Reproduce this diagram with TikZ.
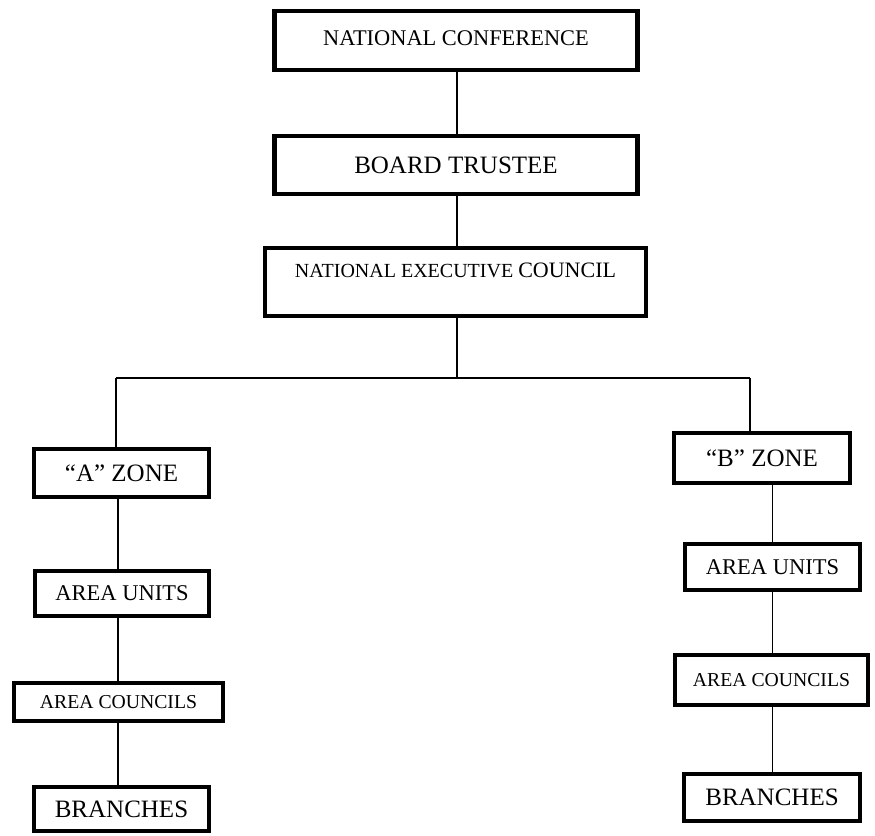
\documentclass[tikz,border=0pt]{standalone}
\usepackage{fontspec}
\setmainfont{Liberation Serif}
\begin{document}
\begin{tikzpicture}[x=1pt,y=1pt,
  orgbox/.style={draw=black, line width=4.5pt, fill=white, inner sep=0pt, align=center},
  link/.style={draw=black, line width=1.5pt}]
\useasboundingbox (0,0) rectangle (875,-835);
% top column
\node[orgbox, minimum width=363, minimum height=59, font=\fontsize{22.4}{26}\selectfont] (nc) at (456,-40.5) {\raisebox{5pt}{NATIONAL CONFERENCE}};
\node[orgbox, minimum width=363, minimum height=58, font=\fontsize{25}{29}\selectfont] (bt) at (456,-165) {BOARD TRUSTEE};
\node[orgbox, minimum width=381, minimum height=68] (nec) at (455.5,-282) {};
\node[inner sep=0pt] (nectext) at (455.5,-270) {\fontsize{20}{24}\selectfont NATIONAL EXECUTIVE \fontsize{22}{26}\selectfont COUNCIL};
% branch line
\coordinate (hm) at (457,-378);
\coordinate (hl) at (116,-378);
\coordinate (hr) at (750,-378);
% left column
\node[orgbox, minimum width=175, minimum height=48, font=\fontsize{25}{29}\selectfont] (az) at (121.5,-473) {“A” ZONE};
\node[orgbox, minimum width=174, minimum height=45, font=\fontsize{22.5}{26}\selectfont] (aul) at (122,-593.5) {AREA UNITS};
\node[orgbox, minimum width=209, minimum height=38, font=\fontsize{19.7}{23}\selectfont] (acl) at (118.5,-702) {AREA COUNCILS};
\node[orgbox, minimum width=175, minimum height=44, font=\fontsize{25}{29}\selectfont] (brl) at (121.5,-809) {BRANCHES};
% right column
\node[orgbox, minimum width=176, minimum height=50, font=\fontsize{25}{29}\selectfont] (bz) at (762,-458) {“B” ZONE};
\node[orgbox, minimum width=175, minimum height=46, font=\fontsize{22.5}{26}\selectfont] (aur) at (772.5,-567) {AREA UNITS};
\node[orgbox, minimum width=193, minimum height=50, font=\fontsize{19.7}{23}\selectfont] (acr) at (771.5,-680) {AREA COUNCILS};
\node[orgbox, minimum width=176, minimum height=47, font=\fontsize{25}{29}\selectfont] (brr) at (772,-797.5) {BRANCHES};
% connectors
\draw[link] (nc.south -| hm) -- (bt.north -| hm);
\draw[link] (bt.south -| hm) -- (nec.north -| hm);
\draw[link] (nec.south -| hm) -- (hm);
\draw[link] (hl) -- (hr);
\draw[link] (hl) -- (az.north -| hl);
\draw[link] (hr) -- (bz.north -| hr);
\draw[link] ([xshift=-3.5pt]az.south) -- ([xshift=-3.5pt]az.south |- aul.north);
\draw[link] ([xshift=-4pt]aul.south) -- ([xshift=-4pt]aul.south |- acl.north);
\draw[link] ([xshift=-4pt]aul.south |- acl.south) -- ([xshift=-4pt]aul.south |- brl.north);
\draw[link] (aur.north) -- (aur.north |- bz.south);
\draw[link] (aur.south) -- (aur.south |- acr.north);
\draw[link] (aur.south |- acr.south) -- (aur.south |- brr.north);
\end{tikzpicture}
\end{document}
